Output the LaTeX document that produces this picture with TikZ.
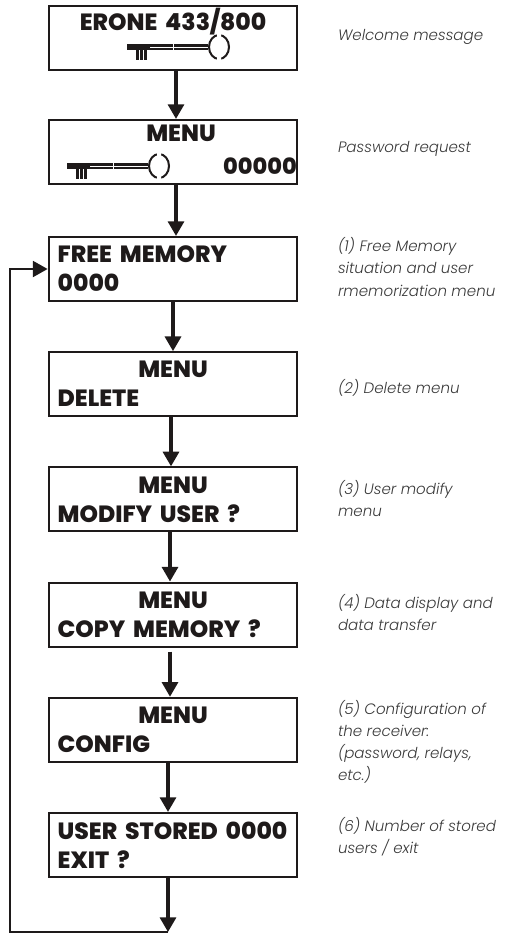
\documentclass[tikz,border=0pt]{standalone}
\usepackage{fontspec}
\setmainfont{Poppins}[UprightFont=* ExtraBold]
\newfontfamily\descfont{Poppins}[UprightFont=* Light Italic]
\usetikzlibrary{arrows.meta, positioning}
\definecolor{linedark}{HTML}{1E1A1A}
\definecolor{descgray}{HTML}{3A3A3A}

\begin{document}
\begin{tikzpicture}[
    x=0.75pt, y=-0.75pt,
    >={Triangle[length=11pt, width=12pt]},
    lcd/.style={draw=linedark, line width=1.6pt, minimum height=48pt, minimum width=186.5pt,
                text width=173pt, inner sep=0pt, align=left, text=linedark,
                font=\fontsize{17.6}{21.75}\selectfont},
    arr/.style={->, draw=linedark, line width=2.4pt},
    desc/.style={font=\descfont\fontsize{11.3}{16.7}\selectfont, text=descgray, align=left,
                 anchor=west, inner sep=0pt, xshift=29.5pt},
    keyicon/.pic={
        \fill[linedark] (0,-3) rectangle (81,3);
        \fill[white] (23,-0.3) rectangle (81,0.3);
        \fill[white] (46,-3) rectangle (47,3);
        \fill[linedark] (9,3) rectangle (20,13);
        \draw[white, line width=0.5pt] (12.5,3) -- (12.5,13) (16,3) -- (16,13);
        \draw[linedark, line width=1.5pt] (92,0) ellipse [x radius=10, y radius=12];
        \fill[white] (90,-14) rectangle (94,-10) (90,10) rectangle (94,14);
    },
]
\useasboundingbox (0,0) rectangle (508,933);

% Display boxes
\node[lcd] (erone) at (173,38) {{\centering ERONE 433/800\par}\strut};
\node[lcd, below=35.9pt of erone] (pass) {{\centering\hspace*{12pt}MENU\par}\strut};
\node[lcd] (free) at (173,269) {FREE MEMORY\par 0000};
\node[lcd, below=36.8pt of free] (del) {{\centering MENU\par}DELETE};
\node[lcd, below=36.8pt of del] (mod) {{\centering MENU\par}MODIFY USER ?};
\node[lcd, below=36.8pt of mod] (copy) {{\centering MENU\par}COPY MEMORY ?};
\node[lcd, below=36.8pt of copy] (conf) {{\centering MENU\par}CONFIG};
\node[lcd, below=36.8pt of conf] (exit) {USER STORED 0000\par EXIT ?};

% Password digits and keys
\node[font=\fontsize{16.8}{20}\selectfont, text=linedark, inner sep=0pt, anchor=east] (digits) at (297,166) {00000};
\pic at (127,47) {keyicon};
\pic at (67,166) {keyicon};

% Descriptions
\node[desc, yshift=0.5pt] (d0) at (erone.east) {Welcome message};
\node[desc, yshift=2pt] (d1) at (pass.east) {Password request};
\node[desc, yshift=1.5pt] (d2) at (free.east) {(1) Free Memory\\situation and user\\rmemorization menu};
\node[desc, yshift=-2.5pt] (d3) at (del.east) {(2) Delete menu};
\node[desc, yshift=0.75pt] (d4) at (mod.east) {(3) User modify\\menu};
\node[desc, yshift=1.75pt] (d5) at (copy.east) {(4) Data display and\\data transfer};
\node[desc, yshift=-9pt] (d6) at (conf.east) {(5) Configuration of\\the receiver:\\(password, relays,\\etc.)};
\node[desc, yshift=6pt] (d7) at (exit.east) {(6) Number of stored\\users / exit};

% Return path
\coordinate (tail) at (168,932);
\coordinate (corner) at (10,932);

% Arrows
\draw[arr] ([xshift=2.25pt]erone.south) -- ([xshift=2.25pt]pass.north);
\draw[arr] ([xshift=2.25pt]pass.south) -- ([xshift=2.25pt]free.north);
\draw[arr] (free.south) -- (del.north);
\draw[arr] ([xshift=-1.5pt]del.south) -- ([xshift=-1.5pt]mod.north);
\draw[arr] ([xshift=-2.25pt]mod.south) -- ([xshift=-2.25pt]copy.north);
\draw[arr] ([xshift=-2.25pt, yshift=-3pt]copy.south) -- ([xshift=-2.25pt]conf.north);
\draw[arr] ([xshift=-3.75pt]conf.south) -- ([xshift=-3.75pt]exit.north);
\draw[arr] ([xshift=-3.75pt]exit.south) -- (tail);
\draw[arr, line width=1.4pt] (tail) -- (corner) -- (corner |- free.west) -- (free.west);

\end{tikzpicture}
\end{document}
